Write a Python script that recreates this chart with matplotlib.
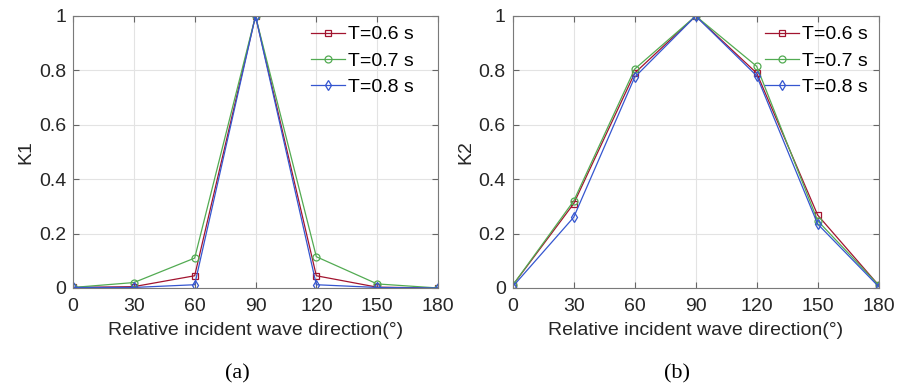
import matplotlib
matplotlib.use("Agg")
import matplotlib.pyplot as plt
import numpy as np

plt.rcParams['font.family'] = ['Liberation Sans', 'DejaVu Sans']

angles = [0, 30, 60, 90, 120, 150, 180]
labels = ['T=0.6 s', 'T=0.7 s', 'T=0.8 s']

k1_06 = [0.002, 0.005, 0.045, 1.0, 0.045, 0.003, 0.0]
k1_07 = [0.002, 0.020, 0.110, 1.0, 0.115, 0.015, 0.0]
k1_08 = [0.002, 0.002, 0.012, 1.0, 0.012, 0.002, 0.0]

k2_06 = [0.010, 0.310, 0.790, 1.0, 0.790, 0.268, 0.010]
k2_07 = [0.010, 0.320, 0.805, 1.0, 0.815, 0.247, 0.010]
k2_08 = [0.005, 0.260, 0.775, 1.0, 0.780, 0.235, 0.005]

colors = ['#a2142f', '#52ab52', '#3556d0']
markers = ['s', 'o', 'd']
msizes = [4.5, 5, 5]

fig = plt.figure(figsize=(9.07, 3.85), dpi=100)
ax1 = fig.add_axes([73/907, 1-288/385, 365/907, 272/385])
ax2 = fig.add_axes([512.7/907, 1-288/385, 366/907, 272/385])

panels = [(ax1, [k1_06, k1_07, k1_08], 'K1', '(a)', 0.934, 237),
          (ax2, [k2_06, k2_07, k2_08], 'K2', '(b)', 0.971, 677)]

for ax, data, ylab, cap, legx, capx in panels:
    for y, c, m, ms, lab in zip(data, colors, markers, msizes, labels):
        ax.plot(angles, y, color=c, marker=m, markersize=ms, markerfacecolor='none',
                markeredgewidth=0.9, linewidth=0.9, label=lab)
    ax.set_xlim(0, 180)
    ax.set_ylim(0, 1)
    ax.set_xticks(angles)
    ax.set_yticks([0, 0.2, 0.4, 0.6, 0.8, 1])
    ax.set_yticklabels(['0', '0.2', '0.4', '0.6', '0.8', '1'])
    ax.tick_params(direction='in', labelsize=14, length=4, color='#666666',
                   labelcolor='#262626', top=True, right=True)
    ax.tick_params(axis='x', pad=7)
    ax.tick_params(axis='y', pad=5)
    ax.grid(True, color='#e3e3e3', linewidth=0.8)
    for s in ax.spines.values():
        s.set_color('#7a7a7a')
        s.set_linewidth(0.8)
    ax.set_xlabel('Relative incident wave direction(°)', fontsize=14, labelpad=5,
                  color='#262626')
    ax.set_ylabel(ylab, fontsize=14, labelpad=3, color='#262626')
    ax.legend(loc='upper right', bbox_to_anchor=(legx, 0.964), fontsize=14,
              frameon=False, handlelength=1.75, handletextpad=0.15,
              borderaxespad=0, borderpad=0, labelspacing=0.45)
    fig.text(capx/907, 1-374/385, cap, ha='center', va='center',
             fontsize=16, family=['Liberation Serif', 'DejaVu Serif'])

fig.savefig('out.png', dpi=100)
